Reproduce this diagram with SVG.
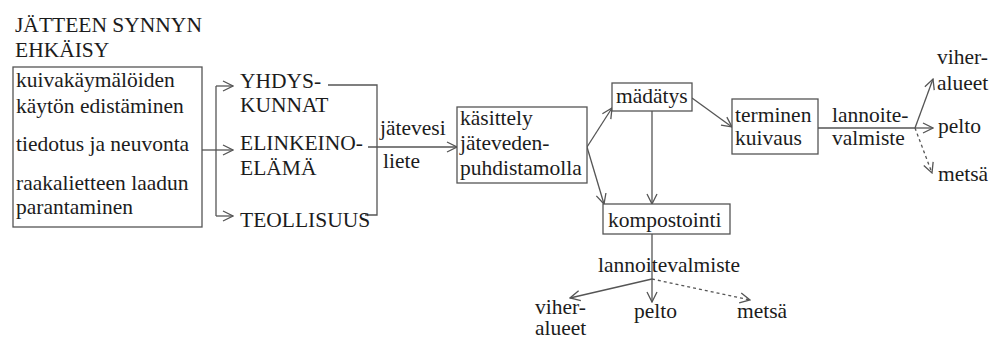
<svg xmlns="http://www.w3.org/2000/svg" width="992" height="338" viewBox="0 0 992 338" font-family="'Liberation Serif', 'DejaVu Serif', 'Times New Roman', serif">
<style>
text{font-family:'Liberation Serif','DejaVu Serif','Times New Roman',serif;font-size:21.5px;fill:#1c1c1c}
.box{fill:#fff;stroke:#555;stroke-width:1.3}
.ln{fill:none;stroke:#555;stroke-width:1.3}
.ar{marker-end:url(#ah)}
.dot{stroke-dasharray:3 3}
</style>
<defs>
<marker id="ah" viewBox="0 0 12 12" refX="11" refY="6" markerWidth="12" markerHeight="12" markerUnits="userSpaceOnUse" orient="auto">
<path d="M1,1 L11,6 L1,11" fill="none" stroke="#555" stroke-width="1.3"/>
</marker>
</defs>
<rect width="992" height="338" fill="#fff"/>
<g id="title">
<text x="15" y="32">JÄTTEEN SYNNYN</text>
<text x="15" y="57">EHKÄISY</text>
</g>
<g id="connectors">
<path class="ln ar" d="M202,150 H233"/>
<path class="ln" d="M216,86 V216"/>
<path class="ln ar" d="M216,86 H233"/>
<path class="ln ar" d="M216,216 H233"/>
<path class="ln" d="M328,85 H377 V215 H365"/>
<path class="ln ar" d="M368,147 H457"/>
<path class="ln ar" d="M587,147 L612,108"/>
<path class="ln ar" d="M587,147 L604,204"/>
<path class="ln ar" d="M652,111 V204"/>
<path class="ln ar" d="M692,98 L732,127"/>
<path class="ln" d="M818,128 H915"/>
<path class="ln ar" d="M915,128 L933,79"/>
<path class="ln ar" d="M915,128 H933"/>
<path class="ln ar dot" d="M915,128 L932,173"/>
<path class="ln ar" d="M652,234 V302"/>
<path class="ln ar" d="M652,279 L570,298"/>
<path class="ln ar dot" d="M652,279 L750,300"/>
</g>
<g id="prevention">
<rect class="box" x="13" y="67" width="189" height="160"/>
<text x="16" y="87">kuivakäymälöiden</text>
<text x="16" y="113">käytön edistäminen</text>
<text x="16" y="151">tiedotus ja neuvonta</text>
<text x="16" y="190">raakalietteen laadun</text>
<text x="16" y="214">parantaminen</text>
</g>
<g id="yhdyskunnat">
<text x="240" y="88">YHDYS-</text>
<text x="240" y="112">KUNNAT</text>
</g>
<g id="elinkeinoelama">
<text x="240" y="150">ELINKEINO-</text>
<text x="240" y="175">ELÄMÄ</text>
</g>
<g id="teollisuus">
<text x="240" y="227">TEOLLISUUS</text>
</g>
<g id="label-jatevesi">
<text x="380" y="135">jätevesi</text>
<text x="383" y="168">liete</text>
</g>
<g id="kasittely">
<rect class="box" x="457" y="107" width="130" height="76"/>
<text x="460" y="125">käsittely</text>
<text x="460" y="150">jäteveden-</text>
<text x="460" y="175">puhdistamolla</text>
</g>
<g id="madatys">
<rect class="box" x="612" y="83" width="80" height="28"/>
<text x="616" y="103">mädätys</text>
</g>
<g id="kompostointi">
<rect class="box" x="603" y="204" width="127" height="30"/>
<text x="608" y="227">kompostointi</text>
</g>
<g id="terminen">
<rect class="box" x="732" y="99" width="86" height="55"/>
<text x="735" y="122">terminen</text>
<text x="735" y="145">kuivaus</text>
</g>
<g id="label-lannoite-1">
<text x="832" y="122">lannoite-</text>
<text x="832" y="145">valmiste</text>
</g>
<g id="out1-viheralueet">
<text x="937" y="64">viher-</text>
<text x="937" y="90">alueet</text>
</g>
<g id="out1-pelto"><text x="938" y="133">pelto</text></g>
<g id="out1-metsa"><text x="938" y="181">metsä</text></g>
<g id="label-lannoite-2"><text x="598" y="272">lannoitevalmiste</text></g>
<g id="out2-viheralueet">
<text x="535" y="314">viher-</text>
<text x="535" y="335">alueet</text>
</g>
<g id="out2-pelto"><text x="634" y="318">pelto</text></g>
<g id="out2-metsa"><text x="737" y="318">metsä</text></g>
</svg>
